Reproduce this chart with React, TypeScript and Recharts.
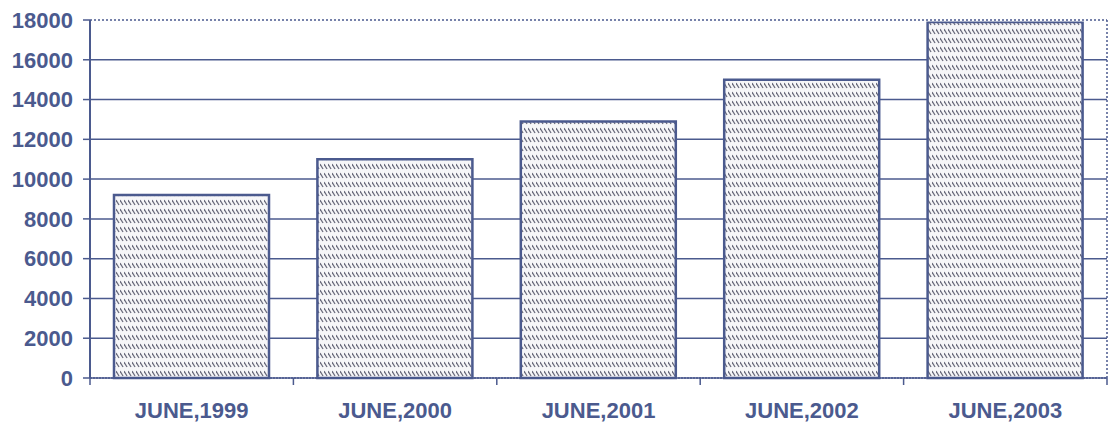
import { BarChart, Bar, XAxis, YAxis, CartesianGrid, ReferenceLine } from "recharts";

const categories = ["JUNE,1999", "JUNE,2000", "JUNE,2001", "JUNE,2002", "JUNE,2003"];
const values = [9200, 11000, 12900, 15000, 17900];
const yTicks = [0, 2000, 4000, 6000, 8000, 10000, 12000, 14000, 16000, 18000];

const INK = "#4b5a8e";
const FONT = "Liberation Sans, Arial, sans-serif";
const data = categories.map((name, i) => ({ name, value: values[i] }));

function XTick(props: any) {
    const { x, y, payload, index } = props;
    const half = 101.7;
    return (
        <g>
            <line x1={x + half} y1={y - 8} x2={x + half} y2={y - 1} stroke={INK} strokeWidth={1.5} />
            {index === 0 && <line x1={x - half} y1={y - 8} x2={x - half} y2={y - 1} stroke={INK} strokeWidth={1.5} />}
            <text x={x} y={y + 32} textAnchor="middle" fill={INK} fontSize={22} fontWeight="bold"
                fontFamily={FONT}>
                {payload.value}
            </text>
        </g>
    );
}

export default function App() {
    return (
        <div style={{ position: "absolute", left: 0, top: 0, background: "#fff" }}>
            <BarChart width={1112} height={425} data={data}
                margin={{ top: 20, right: 0, bottom: 0, left: 0 }}
                barCategoryGap={24}>
                <defs>
                    <pattern id="hatch" width={4} height={9} patternUnits="userSpaceOnUse">
                        <rect width={4} height={9} fill="#f6f6f8" />
                        <line x1={0} y1={2} x2={3} y2={7} stroke="#6a6b7c" strokeWidth={1.3} />
                    </pattern>
                </defs>
                <CartesianGrid yAxisId="left" vertical={false} stroke={INK} strokeWidth={1.5} />
                <ReferenceLine yAxisId="left" y={18000} stroke="#fff" strokeWidth={3} />
                <ReferenceLine yAxisId="left" y={18000} stroke={INK} strokeWidth={1.5} strokeDasharray="2 2" />
                <XAxis dataKey="name" tick={<XTick />} tickLine={false} height={47}
                    axisLine={{ stroke: INK, strokeWidth: 1.5, strokeDasharray: "2 1" }} interval={0} />
                <YAxis yAxisId="left" domain={[0, 18000]} ticks={yTicks} width={90} tickSize={7} tickMargin={10}
                    axisLine={{ stroke: INK, strokeWidth: 2 }} tickLine={{ stroke: INK, strokeWidth: 1.5 }}
                    tick={{ fill: INK, fontSize: 22, fontWeight: "bold", fontFamily: FONT }} />
                <YAxis yAxisId="right" orientation="right" domain={[0, 18000]} width={5} tick={false}
                    tickLine={false} axisLine={{ stroke: INK, strokeWidth: 1.5, strokeDasharray: "2 2" }} />
                <Bar yAxisId="left" dataKey="value" fill="url(#hatch)" stroke={INK} strokeWidth={2.5}
                    isAnimationActive={false} />
            </BarChart>
        </div>
    );
}
